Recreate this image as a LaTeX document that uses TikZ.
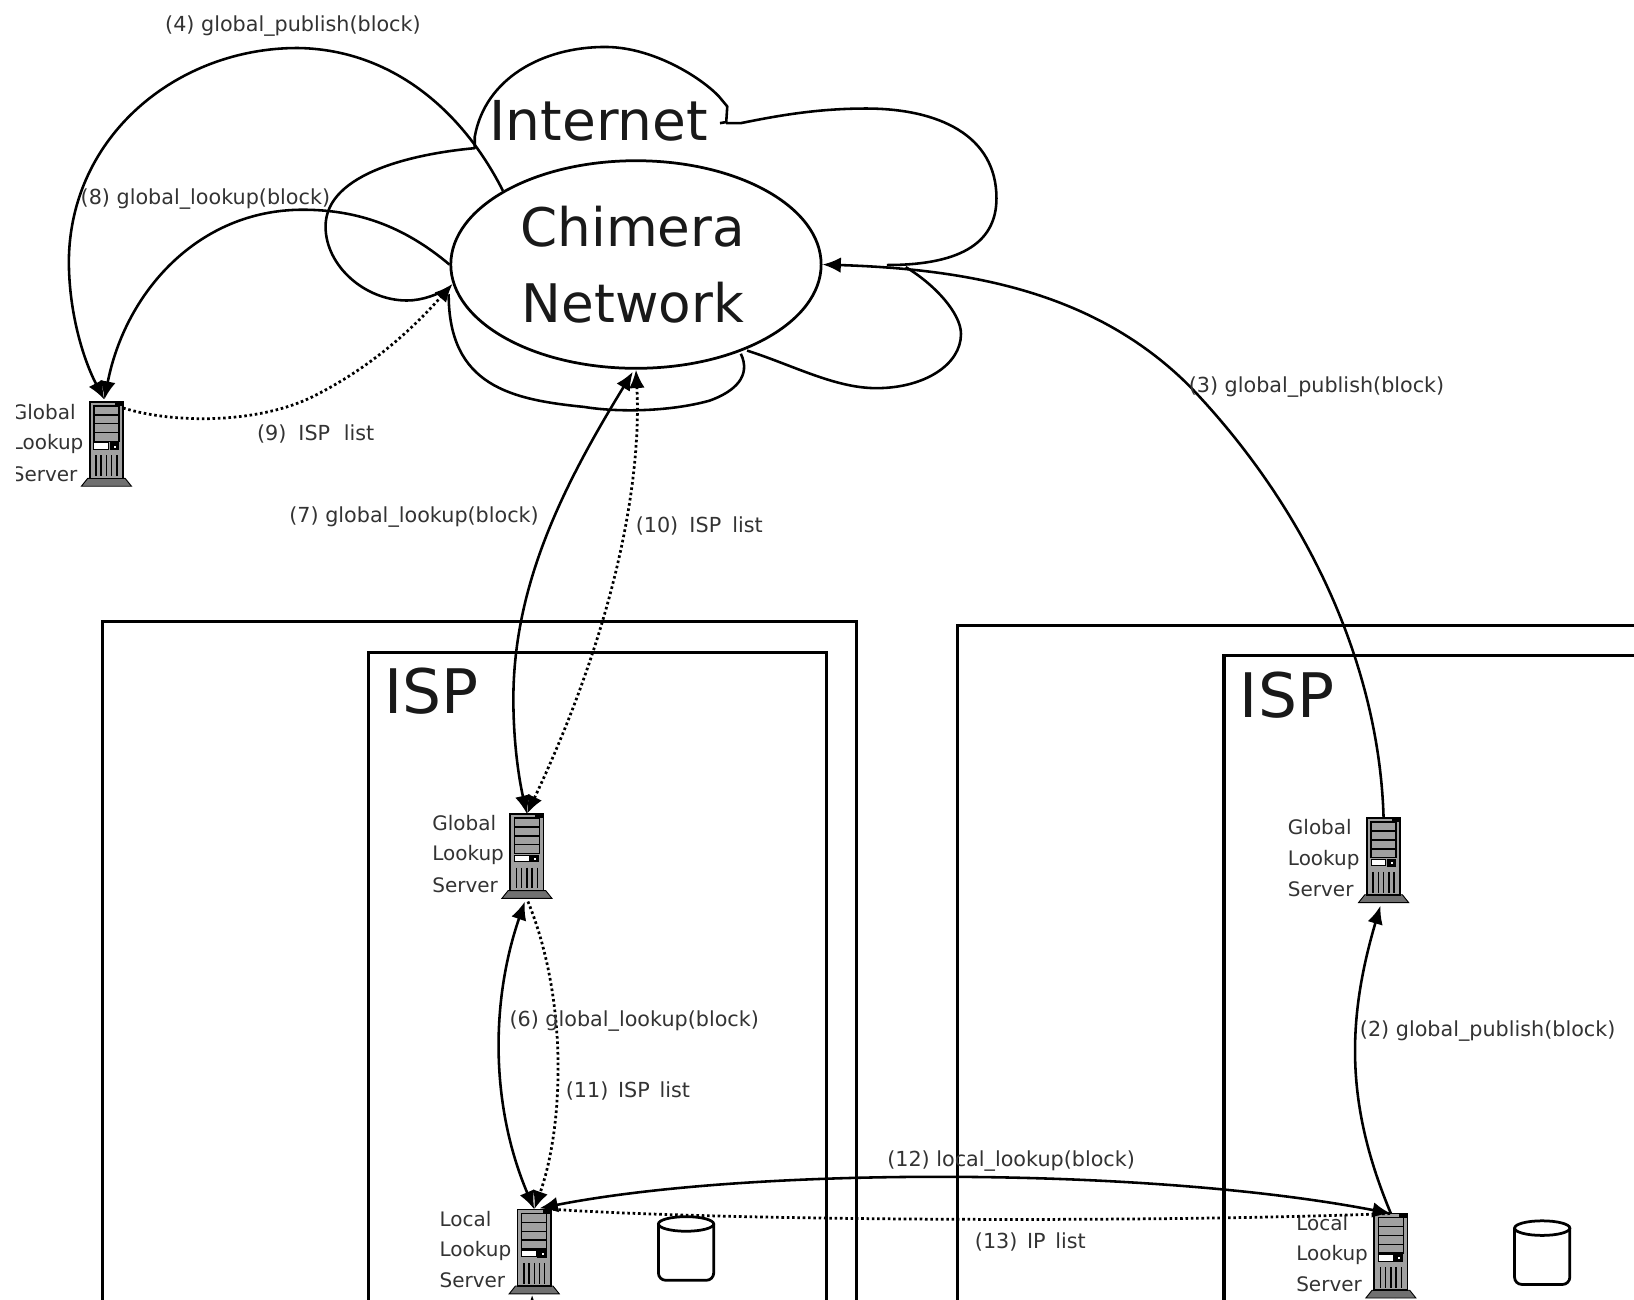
\documentclass[tikz,border=0pt]{standalone}
\usepackage{fontspec}
\setmainfont{DejaVu Sans}
\usetikzlibrary{arrows.meta,shapes.geometric,calc}
\definecolor{txt}{HTML}{333333}
\definecolor{srvgray}{HTML}{A0A0A0}
\definecolor{srvbase}{HTML}{707070}
\tikzset{
  lab/.style={anchor=base west,inner sep=0pt,text=txt,font=\fontsize{11.3}{13}\selectfont},
  srvtxt/.style={anchor=base west,inner sep=0pt,text=txt,font=\fontsize{10.9}{13}\selectfont},
  big/.style={inner sep=0pt,text=black!90,font=\fontsize{30}{36}\selectfont},
  isp/.style={anchor=base west,inner sep=0pt,text=black!90,font=\fontsize{33.5}{38}\selectfont},
  boxline/.style={line width=1.7pt},
  cloudline/.style={line width=1.4pt,line join=round},
  solidc/.style={line width=1.4pt,>={Latex[length=10pt,width=8.5pt]}},
  dotc/.style={line width=1.5pt,dash pattern=on 1.4pt off 1.5pt,>={Latex[length=10pt,width=8.5pt]}},
  srv/.style={minimum width=0.96cm,minimum height=1.62cm,inner sep=0pt,outer sep=0pt},
  serverpic/.pic={
    \draw[fill=srvbase,line width=0.5pt] (-18,33) -- (18,33) -- (24,40.5) -- (-24,40.5) -- cycle;
    \draw[fill=srvgray,line width=0.9pt] (-16,-40.5) rectangle (16,33);
    \fill[black] (8,-40) rectangle (15,-36.5);
    \foreach \t in {-36.5,-28,-19.5,-11}{\draw[fill=srvgray,line width=0.8pt] (-12,\t) rectangle (12,\t+8.5);}
    \draw[fill=white,line width=0.5pt] (-12,-1) rectangle (2,5);
    \fill[black] (3,-1.5) rectangle (12,6);
    \fill[white] (7,1.5) rectangle (9,3.5);
    \foreach \v in {-10,-5,0,5,10}{\draw[line width=0.8pt] (\v,11) -- (\v,31);}
  },
  diskpic/.pic={
    \draw[line width=1.5pt,rounded corners=4pt,fill=white] (-26.5,6) -- (-26.5,60) -- (26.5,60) -- (26.5,6) ;
    \draw[line width=1.5pt,fill=white] (0,6) ellipse [x radius=26.5,y radius=7];
  }
}
\newcommand{\srvlabel}[3]{%
  \node[srvtxt] at (#1,#2) {#3};}
\begin{document}
\begin{tikzpicture}[x=0.02cm,y=-0.02cm]
\useasboundingbox (0,0) rectangle (1566,1245);
\clip (0,0) rectangle (1566,1245);
\fill[white] (0,0) rectangle (1566,1245);

% ISP boxes
\draw[boxline] (98,1260) -- (98,595.5) -- (821,595.5) -- (821,1260);
\draw[boxline] (353,1260) -- (353,625.5) -- (792,625.5) -- (792,1260);
\draw[boxline] (918,1260) -- (918,599.5) -- (1580,599.5);
\draw[boxline] (1173,1260) -- (1173,628.5) -- (1580,628.5);
\node[isp] (ispa) at (368,684) {ISP};
\node[isp] (ispb) at (1188,688) {ISP};

% cloud
\draw[cloudline] (430,276) .. controls (420,282) and (405,288) .. (390,288) .. controls (350,288) and (312,255) .. (312,217) .. controls (312,165) and (400,147) .. (455,142) -- (455,131) .. controls (465,75) and (520,45) .. (580,45) .. controls (630,45) and (680,80) .. (692,96) -- (697,102) -- (696,117) -- (690,118);
\draw[cloudline] (696,118) -- (710,118) .. controls (740,112) and (780,104) .. (830,104) .. controls (900,104) and (955,130) .. (955,190) .. controls (955,230) and (925,254) .. (850,254);
\draw[cloudline] (868,256) .. controls (895,272) and (921,300) .. (921,320) .. controls (921,350) and (885,372) .. (840,372) .. controls (800,372) and (760,350) .. (716,336);
\draw[cloudline] (710,339) .. controls (720,360) and (705,375) .. (680,384) .. controls (640,395) and (590,395) .. (560,390) .. controls (490,383) and (430,370) .. (430,282);

\node[big] (internet) at (574,116) {Internet};
\node[ellipse,draw,line width=1.5pt,minimum width=7.1cm,minimum height=3.98cm,inner sep=0pt,fill=none,align=center,text=black!90,font=\fontsize{29}{41.5}\selectfont] (chimera) at (609.5,253.5) {Chimera\kern3.4pt\\Network\kern3.4pt};

% servers
\node[srv] (g0) at (102,425.5) {};
\pic at (g0) {serverpic};
\node[srv] (g1) at (505,820.5) {};
\pic at (g1) {serverpic};
\node[srv] (l1) at (512,1199.5) {};
\pic at (l1) {serverpic};
\node[srv] (g2) at (1326,824.5) {};
\pic at (g2) {serverpic};
\node[srv] (l2) at (1333,1203.5) {};
\pic at (l2) {serverpic};

% disks
\node[inner sep=0pt,minimum size=0pt] (d1) at (657.5,1167) {};
\pic at (d1) {diskpic};
\node[inner sep=0pt,minimum size=0pt] (d2) at (1478,1171) {};
\pic at (d2) {diskpic};

% server labels
\begin{scope}
\clip (15.5,375) rectangle (90,475);
\node[srvtxt] (g0a) at (11,402) {Global};
\node[srvtxt] (g0b) at (11,431) {Lookup};
\node[srvtxt] (g0c) at (11,461) {Server};
\end{scope}
\srvlabel{414}{796}{Global}
\srvlabel{414}{825}{Lookup}
\srvlabel{414}{855}{Server}
\srvlabel{421}{1175}{Local}
\srvlabel{421}{1204}{Lookup}
\srvlabel{421}{1234}{Server}
\srvlabel{1234}{800}{Global}
\srvlabel{1234}{829}{Lookup}
\srvlabel{1234}{859}{Server}
\srvlabel{1242}{1179}{Local}
\srvlabel{1242}{1208}{Lookup}
\srvlabel{1242}{1238}{Server}

% connectors
\coordinate (g0t) at ($(g0.north)+(-2,-2)$);
\coordinate (g0r) at ($(g0.north)+(16,6)$);
\coordinate (g1b) at ($(g1.south)+(-2,3)$);
\coordinate (g1c) at ($(g1.south)+(1,3)$);
\coordinate (g2b) at ($(g2.south)+(-3,3)$);
\coordinate (chs) at ($(chimera.south)+(-3,2)$);
\coordinate (l1a) at ($(l1.north)+(5,-1)$);
\coordinate (l1b) at ($(l1.north)+(18,0)$);
\coordinate (bl1) at (510,1262);
\coordinate (bl2) at (1337,1262);
\coordinate (bl1t) at ($(l1.south)+(-2,1)$);
\coordinate (bl2t) at ($(l2.south)+(4,1)$);

\draw[solidc,->] (chimera.151) .. controls (440,100) and (370,47) .. (285,46) .. controls (170,46) and (67,130) .. (66,250) .. controls (66,300) and (80,345) .. (g0t);
\draw[solidc,->] (chimera.west) .. controls (385,215) and (340,201) .. (290,201) .. controls (190,201) and (120,280) .. (g0t);
\draw[dotc,->] (g0r) .. controls (170,407) and (250,405) .. (300,380) .. controls (360,350) and (400,310) .. (chimera.186);
\draw[solidc,<->] (chs) .. controls (540,465) and (492,560) .. (492,670) .. controls (492,710) and (497,745) .. (g1.north);
\draw[dotc,<->] (chimera.south) .. controls (615,460) and (590,600) .. (g1.north);
\draw[solidc,<->] (g1b) .. controls (470,960) and (470,1060) .. (l1.north);
\draw[dotc,->] (g1c) .. controls (545,960) and (540,1080) .. (l1.north);
\draw[solidc,->] (g2.north) .. controls (1322,640) and (1255,490) .. (1140,370) .. controls (1050,280) and (930,258) .. (chimera.east);
\draw[solidc,->] (l2.north) .. controls (1290,1060) and (1290,980) .. (g2b);
\draw[solidc,<->] (l1a) .. controls (720,1118) and (1100,1118) .. (l2.north);
\draw[dotc] (l1b) .. controls (700,1170) and (1100,1172) .. (l2.north);

% cut-off arrows below the local servers
\draw[solidc,->] (bl1) -- (bl1t);
\draw[solidc,->] (bl2) -- (bl2t);

% connector labels
\node[lab] (t4) at (158,30) {(4) global\_publish(block)};
\node[lab] (t8) at (77,196) {(8) global\_lookup(block)};
\node[lab] (t9) at (246,422) {(9)\kern3pt{} ISP\kern3.8pt{} list};
\node[lab] (t7) at (277,501) {(7) global\_lookup(block)};
\node[lab] (t10) at (609,510) {(10)\kern2.5pt{} ISP\kern2.5pt{} list};
\node[lab] (t6) at (488,984) {(6) global\_lookup(block)};
\node[lab] (t11) at (542,1052) {(11)\kern1.7pt{} ISP\kern1.7pt{} list};
\node[lab] (t12) at (850,1118) {(12) local\_lookup(block)};
\node[lab] (t13) at (934,1197) {(13)\kern1.7pt{} IP\kern1.7pt{} list};
\node[lab] (t2) at (1303,993) {(2) global\_publish(block)};
\node[lab] (t3) at (1139,376) {(3) global\_publish(block)};
\end{tikzpicture}
\end{document}
